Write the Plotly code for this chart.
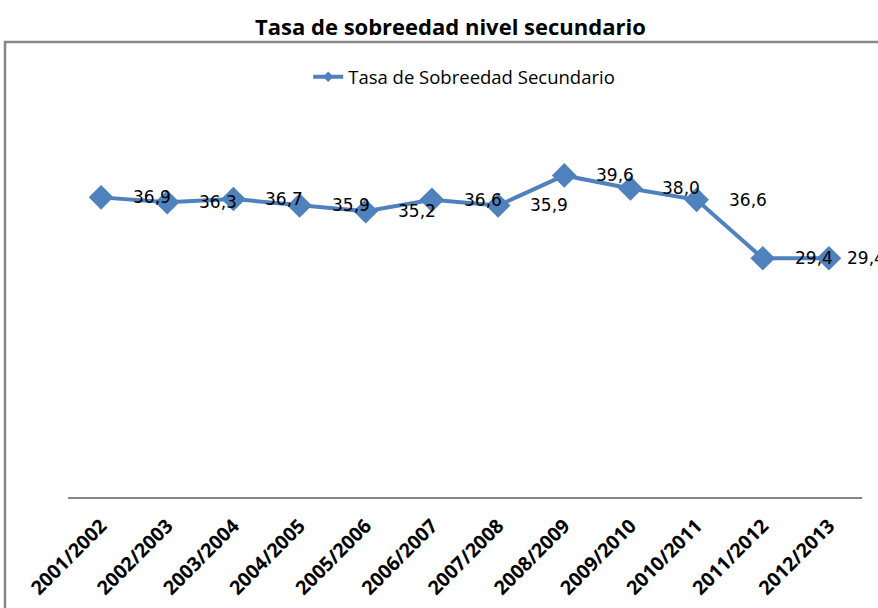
import plotly.graph_objects as go

categories = ["2001/2002", "2002/2003", "2003/2004", "2004/2005", "2005/2006", "2006/2007",
              "2007/2008", "2008/2009", "2009/2010", "2010/2011", "2011/2012", "2012/2013"]
values = [36.9, 36.3, 36.7, 35.9, 35.2, 36.6, 35.9, 39.6, 38.0, 36.6, 29.4, 29.4]
labels = ["36,9", "36,3", "36,7", "35,9", "35,2", "36,6", "35,9", "39,6", "38,0", "36,6", "29,4", "29,4"]
series_name = "Tasa de Sobreedad Secundario"
title_text = "Tasa de sobreedad nivel secundario"

blue = "#4F81BD"

fig = go.Figure()
fig.add_trace(go.Scatter(
    x=categories, y=values, mode="lines+markers", name=series_name,
    line=dict(color=blue, width=4),
    marker=dict(symbol="diamond", size=19, color=blue),
    showlegend=False,
))
# legend entry with a small diamond, as in the reference
fig.add_trace(go.Scatter(
    x=[None], y=[None], mode="lines+markers", name=series_name,
    line=dict(color=blue, width=4),
    marker=dict(symbol="diamond", size=8, color=blue),
    showlegend=True,
))

annotations = []
n = len(categories)
for i, (c, v, t) in enumerate(zip(categories, values, labels)):
    annotations.append(dict(
        x=c, y=v, xref="x", yref="y", text=t, showarrow=False,
        xanchor="left", yanchor="middle", xshift=(16 if i == n - 1 else 30),
        font=dict(family="DejaVu Sans", size=17, color="black"),
    ))

fig.update_layout(
    width=878, height=608,
    margin=dict(l=68, r=16, t=91, b=111, autoexpand=False),
    paper_bgcolor="white", plot_bgcolor="white",
    title=dict(text="<b>" + title_text + "</b>", x=0.513, xanchor="center",
               y=1 - 27 / 608, yanchor="middle", yref="container",
               font=dict(family="Open Sans", size=22, color="black")),
    showlegend=True,
    legend=dict(orientation="h", x=0.499, y=1.034, xanchor="center", yanchor="middle",
                font=dict(family="Open Sans", size=18.5, color="black")),
    xaxis=dict(type="category", showgrid=False, showline=True, linecolor="#868686", linewidth=1.5,
               ticks="", tickangle=-45, ticklabelstandoff=8, automargin=False,
               tickfont=dict(family="Open Sans", size=19.5, color="black", weight="bold"),
               range=[-0.5, 11.5]),
    yaxis=dict(range=[0, 50], showgrid=False, showline=False, showticklabels=False, zeroline=False,
               ticks="", automargin=False),
    shapes=[dict(type="rect", xref="paper", yref="paper",
                 x0=(5 - 68) / 794, x1=1.2, y0=-0.5, y1=(497 - 42) / 406,
                 line=dict(color="#868686", width=2.5), fillcolor="rgba(0,0,0,0)", layer="below")],
    annotations=annotations,
)

fig.write_html(
    "out.html",
    config={"displayModeBar": False},
    post_script="document.body.style.margin='0px';document.body.style.overflow='hidden';",
)
